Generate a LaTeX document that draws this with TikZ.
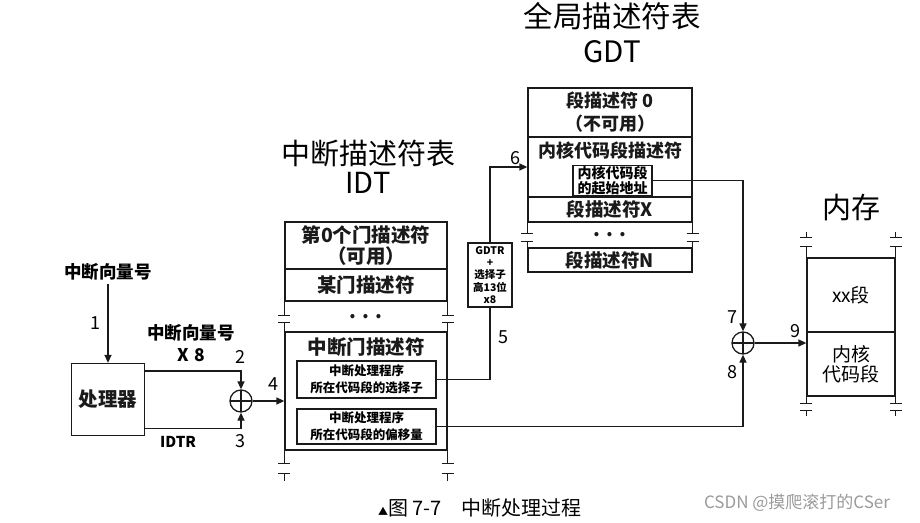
\documentclass[tikz,border=0pt]{standalone}
\usepackage{fontspec}
\setmainfont{Noto Sans CJK SC}
\usetikzlibrary{arrows.meta, positioning}
\definecolor{cline}{HTML}{1A1A1A}
\definecolor{cmark}{HTML}{9A9A9A}

\begin{document}
\begin{tikzpicture}[x=1pt, y=-1pt,
  wire/.style={line width=1.3pt, draw=cline},
  arr/.style={wire, -{Triangle[length=8pt, width=7pt]}},
  tbl/.style={wire, inner sep=0pt, align=center, minimum width=#1},
  rowtxt/.style={font=\fontsize{19.5}{21}\selectfont\bfseries, align=center, text=cline},
  inbox/.style={wire, inner sep=1pt, align=center, font=\fontsize{12.5}{17}\selectfont\bfseries},
  memtxt/.style={font=\fontsize{19}{20}\selectfont, align=center},
  ttl/.style={font=\fontsize{29}{29}\selectfont, align=center},
  lbl/.style={font=\fontsize{17.5}{22}\selectfont\bfseries, align=center},
  num/.style={font=\fontsize{18}{18}\selectfont},
  adder/.style={circle, wire, minimum size=22pt, inner sep=0pt,
    path picture={\draw[line width=1.3pt] (path picture bounding box.north) -- (path picture bounding box.south)
      (path picture bounding box.west) -- (path picture bounding box.east);}},
  gbox/.style={wire, inner sep=0.5pt, align=center, minimum width=44pt, minimum height=64pt,
    font=\fontsize{10.5}{12.2}\selectfont\bfseries}
]
\useasboundingbox (0,0) rectangle (920,522);

% titles
\node[ttl] (idtttl) at (368,167) {中断描述符表\\IDT};
\node[ttl, font=\fontsize{29.5}{35}\selectfont] (gdtttl) at (612,33) {全局描述符表\\GDT};
\node[ttl] (memttl) at (851,208) {内存};

% IDT
\node[tbl=162pt, minimum height=47pt, rowtxt] (idt0) at (366,245.5) {第0个门描述符\\（可用）};
\node[tbl=162pt, minimum height=32pt, rowtxt] (idt1) at (366,285) {某门描述符};
\node[rowtxt] (idtdots) at (366,317) {. . .};
\node[tbl=162pt, minimum height=118pt] (idtgate) at (366,391) {};
\node[rowtxt] (gatettl) at (366,347) {中断门描述符};
\node[inbox, minimum width=139pt, minimum height=37pt] (selbox) at (366.5,379.5) {中断处理程序\\所在代码段的选择子};
\node[inbox, minimum width=139pt, minimum height=35pt] (offbox) at (366.5,426.5) {中断处理程序\\所在代码段的偏移量};
\foreach \s in {west,east}{
  \draw[wire] (idt1.south \s) -- ++(0,14) ++(-6,0) -- ++(12,0);
  \draw[wire] (idtgate.north \s) -- ++(0,-9) ++(-6,0) -- ++(12,0);
  \draw[wire] (idtgate.south \s) -- ++(0,13) ++(-6,0) -- ++(12,0);
  \draw[wire] (idtgate.south \s) ++(-6,23) -- ++(12,0) ++(-6,0) -- ++(0,7);
}

% GDT
\node[tbl=164pt, minimum height=49pt, rowtxt, font=\fontsize{18}{23}\selectfont\bfseries] (gdt0) at (610,112.5) {段描述符 0\\（不可用）};
\node[tbl=164pt, minimum height=60pt] (gdtk) at (610,167) {};
\node[rowtxt, font=\fontsize{18}{20}\selectfont\bfseries] (gdtkttl) at (610,151) {内核代码段描述符};
\node[inbox, minimum width=79pt, minimum height=29pt, font=\fontsize{14}{14.5}\selectfont\bfseries] (kbase) at (612.5,180.5) {内核代码段\\的起始地址};
\node[tbl=164pt, minimum height=25pt, rowtxt, font=\fontsize{18.5}{20}\selectfont\bfseries] (gdtx) at (610,209.5) {段描述符X};
\node[rowtxt] (gdtdots) at (610,235) {. . .};
\node[tbl=164pt, minimum height=24pt, rowtxt, font=\fontsize{18.5}{20}\selectfont\bfseries] (gdtn) at (610,260) {段描述符N};
\foreach \s in {west,east}{
  \draw[wire] (gdtx.south \s) -- ++(0,11) ++(-6,0) -- ++(12,0);
  \draw[wire] (gdtn.north \s) -- ++(0,-6) ++(-6,0) -- ++(12,0);
}

% memory
\node[tbl=88pt, minimum height=74pt, memtxt] (mxx) at (851,295) {xx段};
\node[tbl=88pt, minimum height=64pt, memtxt] (mkern) at (851,364) {内核\\代码段};
\foreach \s in {west,east}{
  \draw[wire] (mxx.north \s) -- ++(0,-11) ++(-6,0) -- ++(12,0);
  \draw[wire] (mxx.north \s) ++(-6,-20) -- ++(12,0) ++(-6,0) -- ++(0,-5);
  \draw[wire] (mkern.south \s) -- ++(0,7) ++(-6,0) -- ++(12,0);
  \draw[wire] (mkern.south \s) ++(-6,14) -- ++(12,0) ++(-6,0) -- ++(0,5);
}

% processor and first adder
\node[tbl=73pt, minimum height=72pt, rowtxt] (cpu) at (108,399.5) {处理器};
\node[lbl] (vecnum) at (108,272) {中断向量号};
\node[num] (n1) at (95,323) {1};
\draw[arr] (vecnum.south) -- (cpu.north);
\node[lbl] (mul) at (191,343.5) {中断向量号\\X\,\,8};
\node[adder] (add1) at (241,401) {};
\draw[arr] ([yshift=-8pt]cpu.north east) -| (add1.north);
\draw[arr] ([yshift=8pt]cpu.south east) -| (add1.south);
\node[num] (n2) at (240,357) {2};
\node[num] (n3) at (240,441) {3};
\node[lbl, font=\fontsize{15}{15}\selectfont\bfseries] (idtr) at (178,442) {IDTR};
\draw[arr] (add1.east) -- (add1 -| idtgate.west);
\node[num] (n4) at (273,384) {4};

% selector to GDT
\node[gbox] (gdtr) at (490,275) {GDTR\\+\\选择子\\高13位\\x8};
\draw[wire] (selbox.east) -| (gdtr.south);
\node[num] (n5) at (503,337) {5};
\draw[arr] (gdtr.north) |- (gdtk.west);
\node[num] (n6) at (515,158) {6};

% second adder to memory
\node[adder] (add2) at (743,343) {};
\draw[arr] (kbase.east) -| (add2.north);
\draw[arr] (offbox.east) -| (add2.south);
\draw[arr] (add2.east) -- (add2 -| mkern.west);
\node[num] (n7) at (732,317) {7};
\node[num] (n8) at (732,372) {8};
\node[num] (n9) at (795,331) {9};

% caption
\node[font=\fontsize{20}{20}\selectfont] (cap) at (480,508) {{\fontsize{10}{10}\selectfont ▲}图 7-7\quad 中断处理过程};
\node[font=\fontsize{17}{17}\selectfont, text=cmark] (wm) at (797,503) {CSDN @摸爬滚打的CSer};
\end{tikzpicture}
\end{document}
